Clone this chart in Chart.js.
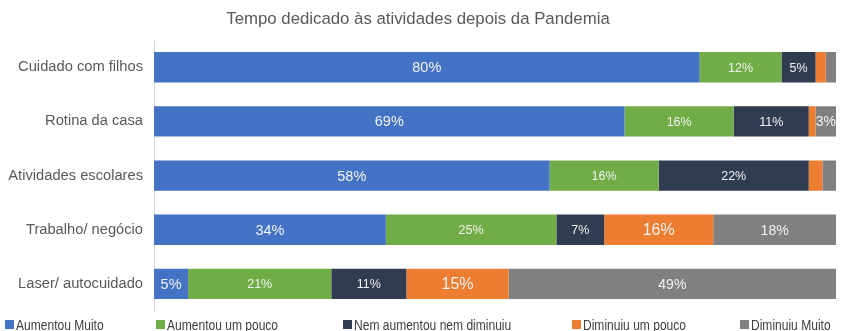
<!DOCTYPE html>
<html>
<head>
<meta charset="utf-8">
<script src="https://cdn.jsdelivr.net/npm/chart.js@4.4.1/dist/chart.umd.min.js"></script>
<style>
  html, body { margin: 0; padding: 0; background: #ffffff; overflow: hidden; }
  #wrap { position: relative; width: 849px; height: 331px; }
</style>
</head>
<body>
<div id="wrap"><canvas id="c"></canvas></div>
<script>
const categories = ["Cuidado com filhos", "Rotina da casa", "Atividades escolares", "Trabalho/ negócio", "Laser/ autocuidado"];
const seriesNames = ["Aumentou Muito", "Aumentou um pouco", "Nem aumentou nem diminuiu", "Diminuiu um pouco", "Diminuiu Muito"];
const aumentouMuito = [80, 69, 58, 34, 5];
const aumentouPouco = [12, 16, 16, 25, 21];
const nemAumentou = [5, 11, 22, 7, 11];
const diminuiuPouco = [1.5, 1, 2, 16, 15];
const diminuiuMuito = [1.5, 3, 2, 18, 49];

const colors = ["#4472C4", "#70AD47", "#303C4F", "#ED7D31", "#808080"];
const labelSizes = [14.5, 12.5, 12.5, 16, 14];
const values = [aumentouMuito, aumentouPouco, nemAumentou, diminuiuPouco, diminuiuMuito];
const legendX = [5, 156, 343, 572, 740];

const datasets = values.map((v, i) => ({
  label: seriesNames[i],
  data: v,
  backgroundColor: colors[i],
  borderWidth: 0,
  barPercentage: 0.56,
  categoryPercentage: 1.0
}));

const labelPlugin = {
  id: 'barLabels',
  afterDatasetsDraw(chart) {
    const ctx = chart.ctx;
    ctx.save();
    chart.data.datasets.forEach((ds, di) => {
      const meta = chart.getDatasetMeta(di);
      meta.data.forEach((bar, i) => {
        const v = ds.data[i];
        if (v < 3) return;
        const left = Math.min(bar.x, bar.base);
        const right = Math.min(Math.max(bar.x, bar.base), chart.chartArea.right);
        ctx.font = labelSizes[di] + 'px "Liberation Sans", Arial, sans-serif';
        ctx.fillStyle = '#F2F2F2';
        ctx.textAlign = 'center';
        ctx.textBaseline = 'middle';
        ctx.fillText(Math.round(v) + '%', (left + right) / 2, bar.y + 1);
      });
    });
    ctx.restore();
  }
};

const legendPlugin = {
  id: 'customLegend',
  afterDraw(chart) {
    const ctx = chart.ctx;
    const y = 325;
    chart.data.datasets.forEach((ds, i) => {
      const x = legendX[i];
      ctx.save();
      ctx.fillStyle = ds.backgroundColor;
      ctx.fillRect(x, y - 5, 9, 9);
      ctx.translate(x + 11, y + 1);
      ctx.scale(0.83, 1);
      ctx.font = '14.5px "Liberation Sans", Arial, sans-serif';
      ctx.fillStyle = '#404040';
      ctx.textAlign = 'left';
      ctx.textBaseline = 'middle';
      ctx.fillText(ds.label, 0, 0);
      ctx.restore();
    });
  }
};

new Chart(document.getElementById('c'), {
  type: 'bar',
  data: { labels: categories, datasets: datasets },
  options: {
    indexAxis: 'y',
    responsive: true,
    maintainAspectRatio: false,
    animation: false,
    layout: { padding: { left: 0, right: 13, top: 0, bottom: 20 } },
    scales: {
      x: {
        stacked: true,
        display: false,
        min: 0,
        max: 100
      },
      y: {
        stacked: true,
        grid: { display: false, drawTicks: false },
        border: { display: true, color: '#D9D9D9', width: 1 },
        ticks: {
          color: '#595959',
          padding: 11,
          font: { family: '"Liberation Sans", Arial, sans-serif', size: 14.7 }
        },
        afterFit(scale) { scale.width = 154; }
      }
    },
    plugins: {
      title: {
        display: true,
        text: 'Tempo dedicado às atividades depois da Pandemia',
        color: '#595959',
        font: { family: '"Liberation Sans", Arial, sans-serif', size: 16.8, weight: 'normal' },
        padding: { top: 9, bottom: 11 }
      },
      legend: { display: false },
      tooltip: { enabled: false }
    }
  },
  plugins: [labelPlugin, legendPlugin]
});
</script>
</body>
</html>
